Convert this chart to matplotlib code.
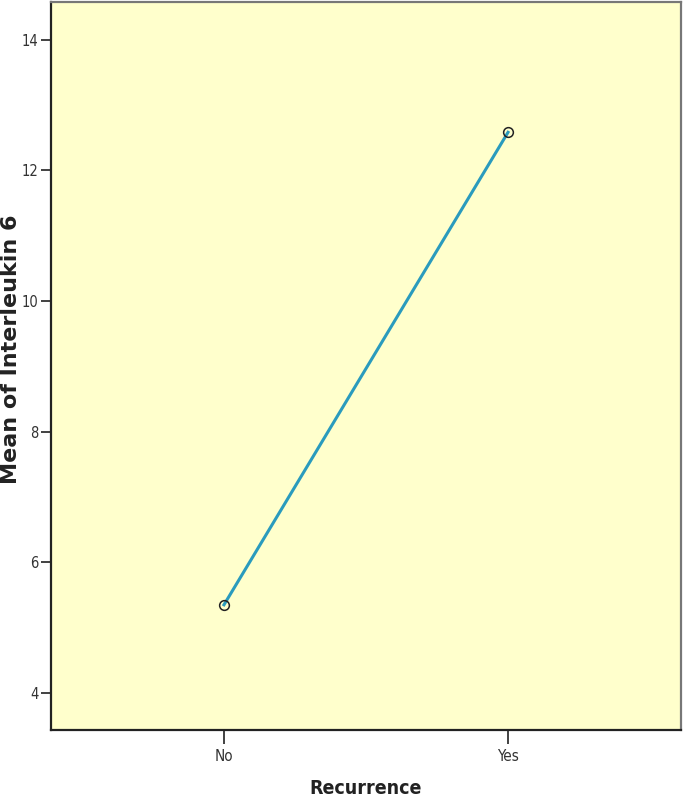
import matplotlib
matplotlib.use('Agg')
import matplotlib.pyplot as plt

# Data
categories = ['No', 'Yes']
mean_il6 = [5.35, 12.58]
y_ticks = [4, 6, 8, 10, 12, 14]

plt.rcParams['font.family'] = ['DejaVu Sans']
plt.rcParams['font.stretch'] = 'condensed'

fig = plt.figure(figsize=(6.85, 8.02), dpi=100)
ax = fig.add_axes([51 / 685, 72 / 802, 630 / 685, 728 / 802])
ax.set_facecolor('#ffffcc')

x = list(range(len(categories)))
ax.plot(x, mean_il6, color='#2a9bbd', linewidth=2.2, zorder=2)
ax.plot(x, mean_il6, linestyle='none', marker='o', markersize=7,
        markerfacecolor='none', markeredgecolor='#222222',
        markeredgewidth=1.1, zorder=3)

ax.set_xlim(-0.609, 1.609)
ax.set_ylim(3.434, 14.574)
ax.set_xticks(x)
ax.set_xticklabels(categories, fontsize=11, color='#333333')
ax.set_yticks(y_ticks)
ax.set_yticklabels([str(v) for v in y_ticks], fontsize=10.5, color='#333333')
ax.tick_params(axis='y', length=7, width=1.3, color='#333333', pad=2)
ax.tick_params(axis='x', length=10, width=1.3, color='#333333', pad=4)

for side in ['left', 'bottom']:
    ax.spines[side].set_linewidth(1.6)
    ax.spines[side].set_color('#222222')
for side in ['top', 'right']:
    ax.spines[side].set_linewidth(1.6)
    ax.spines[side].set_color('#777777')

fig.text(11 / 685, 1 - 349 / 802, 'Mean of Interleukin 6', rotation=90,
         ha='center', va='center', fontsize=16, fontweight='bold',
         fontstretch='normal', color='#222222')
fig.text(366 / 685, 1 - 789 / 802, 'Recurrence', ha='center', va='center',
         fontsize=14, fontweight='bold', color='#222222')

fig.savefig('out.png', dpi=100)
